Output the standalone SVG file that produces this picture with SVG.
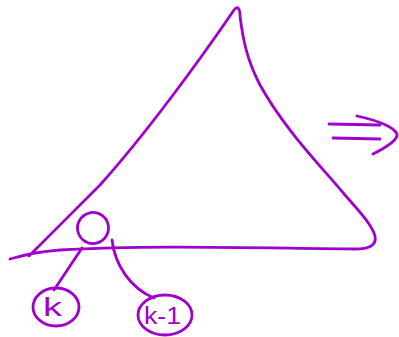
<svg xmlns="http://www.w3.org/2000/svg" width="399" height="337" viewBox="0 0 399 337">
<style>
.s{fill:none;stroke:#A000CC;stroke-width:2.8;stroke-linecap:round;stroke-linejoin:round}
.t{fill:#A000CC;font-family:"Liberation Sans",Arial,sans-serif}
</style>
<rect width="399" height="337" fill="#fff"/>
<g id="triangle">
<path class="s" d="M29,256 C50,235 80,205 100,185 C145,135 200,60 234,10 C238,5 240,9 240,16 C243,40 247,60 260,85 C285,130 320,165 345,195 C360,212 372,225 375,236 C377,246 368,249 355,249 C250,248 150,245 60,250 C35,252 20,256 10,259"/>
</g>
<g id="node-root">
<ellipse class="s" cx="93" cy="228" rx="15.5" ry="15.5" transform="rotate(-15 93 228)"/>
</g>
<g id="node-k">
<ellipse class="s" cx="56" cy="307" rx="23" ry="19"/>
<text class="t" x="43" y="316" font-size="25" textLength="19" lengthAdjust="spacingAndGlyphs">k</text>
</g>
<g id="node-k1">
<ellipse class="s" cx="165" cy="315" rx="27" ry="20"/>
<text class="t" x="144" y="324" font-size="23" textLength="37" lengthAdjust="spacingAndGlyphs">k-1</text>
</g>
<g id="connectors">
<path class="s" d="M82,248 L54,290"/>
<path class="s" d="M112,240 C115,265 130,288 154,298"/>
</g>
<g id="arrow">
<path class="s" d="M329,124 L380,125"/>
<path class="s" d="M333,138 L380,139"/>
<path class="s" d="M357,116 C385,122 398,130 397,136 C395,142 385,148 373,154"/>
</g>
</svg>
